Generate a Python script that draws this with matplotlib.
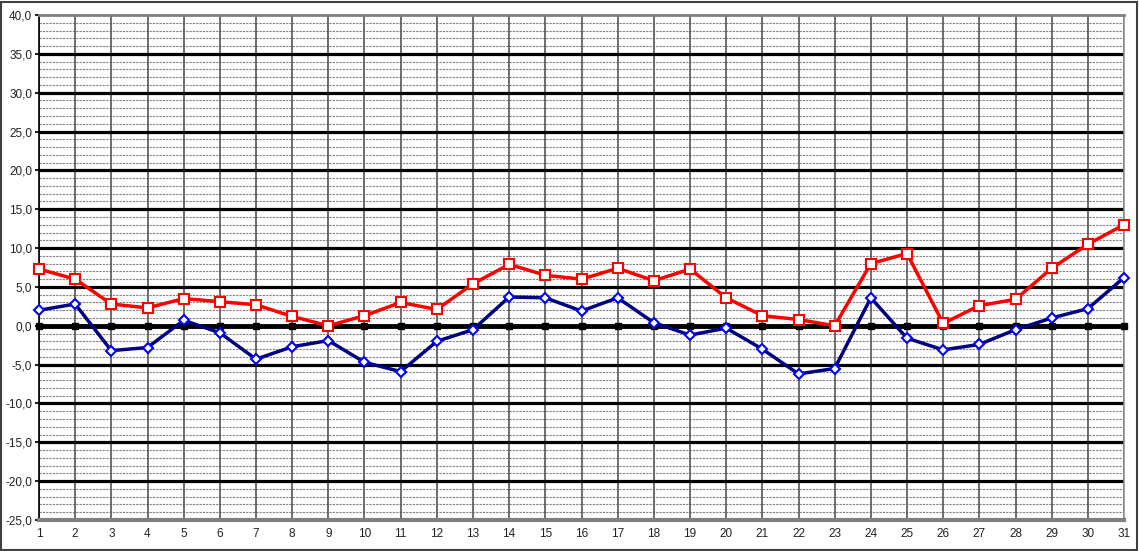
import matplotlib
matplotlib.use("Agg")
import matplotlib.pyplot as plt
from matplotlib.patches import Rectangle
import numpy as np

days = list(range(1, 32))
red_vals = [7.3, 6.0, 2.8, 2.3, 3.5, 3.1, 2.7, 1.2, 0.0, 1.3,
            3.0, 2.1, 5.4, 7.9, 6.5, 6.0, 7.4, 5.8, 7.3, 3.6,
            1.3, 0.8, 0.0, 8.0, 9.3, 0.3, 2.6, 3.4, 7.4, 10.5, 13.0]
blue_vals = [2.0, 2.8, -3.2, -2.8, 0.7, -0.9, -4.3, -2.7, -1.9, -4.7,
             -5.9, -2.0, -0.5, 3.7, 3.6, 1.9, 3.6, 0.4, -1.2, -0.3,
             -3.0, -6.2, -5.5, 3.6, -1.6, -3.1, -2.4, -0.5, 1.0, 2.2, 6.2]
zero_vals = [0.0] * 31

y_min, y_max = -25, 40

fig = plt.figure(figsize=(11.39, 5.51), dpi=100)
fig.patches.append(Rectangle((0.001, 0.002), 0.997, 0.995, transform=fig.transFigure,
                             fill=False, edgecolor='#404040', linewidth=1.5))

ax = fig.add_axes([39 / 1139, 1 - 520 / 551, (1124 - 39) / 1139, (520 - 15) / 551])
ax.set_xlim(1, 31)
ax.set_ylim(y_min, y_max)

# minor grid every 1, major every 5
for v in range(y_min, y_max + 1):
    if v % 5 != 0:
        ax.axhline(v, color='#808080', lw=0.8, ls=(0, (2, 1)), zorder=1)
for v in range(y_min + 5, y_max, 5):
    ax.axhline(v, color='black', lw=2.3, zorder=2)
for d in days:
    ax.axvline(d, color='#555555', lw=1.2, zorder=1.5)

ax.plot(days, zero_vals, color='black', lw=3.5, marker='s', ms=4,
        markerfacecolor='black', markeredgecolor='black', zorder=3, clip_on=False)
ax.plot(days, blue_vals, color='#000080', lw=2.5, marker='D', ms=5,
        markerfacecolor='white', markeredgecolor='#0000FF', markeredgewidth=1.5,
        zorder=4, clip_on=False)
ax.plot(days, red_vals, color='#FF0000', lw=2.5, marker='s', ms=7,
        markerfacecolor='white', markeredgecolor='#FF0000', markeredgewidth=1.5,
        zorder=5, clip_on=False)

ax.set_yticks(range(y_min, y_max + 1, 5))
ax.set_yticklabels([f"{v:.1f}".replace('.', ',') for v in range(y_min, y_max + 1, 5)])
ax.set_xticks(days)
ax.set_xticklabels([str(d) for d in days])
ax.tick_params(axis='y', length=3, width=1.5, labelsize=8.5, pad=2, colors='#222222')
ax.tick_params(axis='x', length=0, labelsize=8.5, pad=6, colors='#222222')
for lbl in ax.get_xticklabels() + ax.get_yticklabels():
    lbl.set_family(['Liberation Sans', 'DejaVu Sans'])

ax.spines['left'].set_color('black')
ax.spines['left'].set_linewidth(1.2)
ax.spines['bottom'].set_color('#808080')
ax.spines['bottom'].set_linewidth(3)
ax.spines['top'].set_color('#808080')
ax.spines['top'].set_linewidth(2)
ax.spines['right'].set_color('#909090')
ax.spines['right'].set_linewidth(1.2)

fig.savefig('out.png', dpi=100)
